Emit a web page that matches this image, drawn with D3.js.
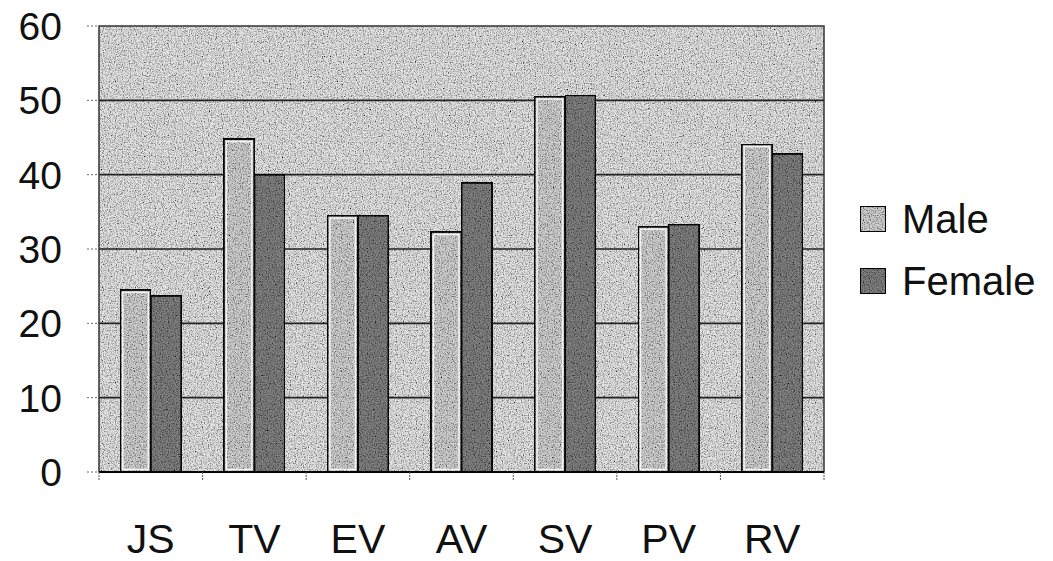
<!DOCTYPE html>
<html>
<head>
<meta charset="utf-8">
<script src="https://cdn.jsdelivr.net/npm/d3@7"></script>
<style>
  body { margin: 0; background: #fff; }
  svg { display: block; }
  text { font-family: "Liberation Sans", Arial, sans-serif; fill: #111; }
</style>
</head>
<body>
<svg id="chart" width="1053" height="561"></svg>
<script>
// Valores
const categorias = ["JS", "TV", "EV", "AV", "SV", "PV", "RV"]
const series = ["Male", "Female"]
const male = [24.5, 44.8, 34.5, 32.3, 50.5, 33.0, 44.1]
const female = [23.7, 40.0, 34.5, 38.9, 50.7, 33.3, 42.8]
const yTicks = [0, 10, 20, 30, 40, 50, 60]

const rows = categorias.map((c, i) => ({cat: c, Male: male[i], Female: female[i]}))

const svg = d3.select('#chart')
const plotL = 99, plotR = 824, plotT = 26, plotB = 472

// Grano tipo escaneo
const defs = svg.append('defs')
const grain = defs.append('filter').attr('id', 'grain')
    .attr('x', 0).attr('y', 0).attr('width', '100%').attr('height', '100%')
grain.append('feTurbulence')
    .attr('type', 'fractalNoise').attr('baseFrequency', 0.85)
    .attr('numOctaves', 2).attr('seed', 4).attr('result', 'n')
grain.append('feColorMatrix').attr('in', 'n').attr('type', 'matrix')
    .attr('values', '0 0 0 0 0  0 0 0 0 0  0 0 0 0 0  2.2 0 0 0 -0.9')
    .attr('result', 'dots')
grain.append('feComposite').attr('in', 'dots').attr('in2', 'SourceGraphic')
    .attr('operator', 'in').attr('result', 'dotsIn')
const merge = grain.append('feMerge')
merge.append('feMergeNode').attr('in', 'SourceGraphic')
merge.append('feMergeNode').attr('in', 'dotsIn')

const x0 = d3.scaleBand()
    .domain(categorias)
    .range([plotL, plotR])
    .paddingInner(0.41)
    .paddingOuter(0.205)

const x1 = d3.scaleBand()
    .domain(series)
    .range([0, x0.bandwidth()])

const y = d3.scaleLinear()
    .domain([0, 60])
    .range([plotB, plotT])

const fill = d3.scaleOrdinal()
    .domain(series)
    .range(["#d0d0d0", "#808080"])

// Fondo del area
svg.append('rect')
    .attr('x', plotL).attr('y', plotT)
    .attr('width', plotR - plotL).attr('height', plotB - plotT)
    .attr('fill', '#e4e4e4')
    .attr('filter', 'url(#grain)')

// Rejilla
svg.append('g')
    .selectAll('line')
    .data(yTicks.filter(d => d > 0 && d < 60))
    .join('line')
    .attr('x1', plotL).attr('x2', plotR)
    .attr('y1', d => y(d)).attr('y2', d => y(d))
    .attr('stroke', '#222').attr('stroke-width', 1.6)

// Borde del area
svg.append('path')
    .attr('d', `M${plotL},${plotB}V${plotT}H${plotR}V${plotB}`)
    .attr('fill', 'none')
    .attr('stroke', '#333').attr('stroke-width', 1.5)

// Barras
const grupos = svg.append('g')
    .selectAll('g')
    .data(rows)
    .join('g')
    .attr('transform', d => `translate(${x0(d.cat)},0)`)

grupos.selectAll('rect.bar')
    .data(d => series.map(s => ({serie: s, valor: d[s]})))
    .join('rect')
    .attr('class', 'bar')
    .attr('x', d => x1(d.serie))
    .attr('y', d => y(d.valor))
    .attr('width', x1.bandwidth())
    .attr('height', d => y(0) - y(d.valor))
    .attr('fill', d => fill(d.serie))
    .attr('stroke', '#111')
    .attr('stroke-width', 2)
    .attr('filter', 'url(#grain)')

// Borde claro interior de las barras de Male
grupos.selectAll('rect.inner')
    .data(d => [{serie: 'Male', valor: d.Male}])
    .join('rect')
    .attr('class', 'inner')
    .attr('x', d => x1(d.serie) + 2.5)
    .attr('y', d => y(d.valor) + 2.5)
    .attr('width', x1.bandwidth() - 5)
    .attr('height', d => y(0) - y(d.valor) - 5)
    .attr('fill', 'none')
    .attr('stroke', '#f2f2f2')
    .attr('stroke-width', 1.5)

// Eje X
const xAxis = svg.append('g')
    .attr('transform', `translate(0,${plotB})`)
xAxis.append('line')
    .attr('x1', plotL).attr('x2', plotR)
    .attr('stroke', '#000').attr('stroke-width', 2.2)
xAxis.selectAll('line.tick')
    .data(d3.range(categorias.length + 1))
    .join('line')
    .attr('class', 'tick')
    .attr('x1', i => plotL + i * x0.step())
    .attr('x2', i => plotL + i * x0.step())
    .attr('y1', 0).attr('y2', 9)
    .attr('stroke', '#555').attr('stroke-width', 1)
    .attr('stroke-dasharray', '2,1')
xAxis.selectAll('text')
    .data(categorias)
    .join('text')
    .attr('x', d => x0(d) + x0.bandwidth() / 2)
    .attr('y', 81)
    .attr('text-anchor', 'middle')
    .attr('font-size', '41px')
    .text(d => d)

// Eje Y
const yAxis = svg.append('g')
yAxis.selectAll('line')
    .data(yTicks)
    .join('line')
    .attr('x1', plotL - 12).attr('x2', plotL)
    .attr('y1', d => y(d)).attr('y2', d => y(d))
    .attr('stroke', '#666').attr('stroke-width', 1)
    .attr('stroke-dasharray', '2,2')
yAxis.selectAll('text')
    .data(yTicks)
    .join('text')
    .attr('x', 62)
    .attr('y', d => y(d))
    .attr('dy', '0.36em')
    .attr('text-anchor', 'end')
    .attr('font-size', '39px')
    .text(d => d)

// Leyenda
const leyenda = svg.append('g')
    .attr('transform', 'translate(860,0)')
    .selectAll('g')
    .data(series)
    .join('g')
    .attr('transform', (d, i) => `translate(0,${219 + i * 62})`)
leyenda.append('rect')
    .attr('x', 0).attr('y', -13)
    .attr('width', 26).attr('height', 26)
    .attr('fill', d => fill(d))
    .attr('stroke', '#111').attr('stroke-width', 2)
    .attr('filter', 'url(#grain)')
leyenda.append('text')
    .attr('x', 42)
    .attr('y', 0)
    .attr('dy', '0.36em')
    .attr('font-size', '40px')
    .text(d => d)
</script>
</body>
</html>
